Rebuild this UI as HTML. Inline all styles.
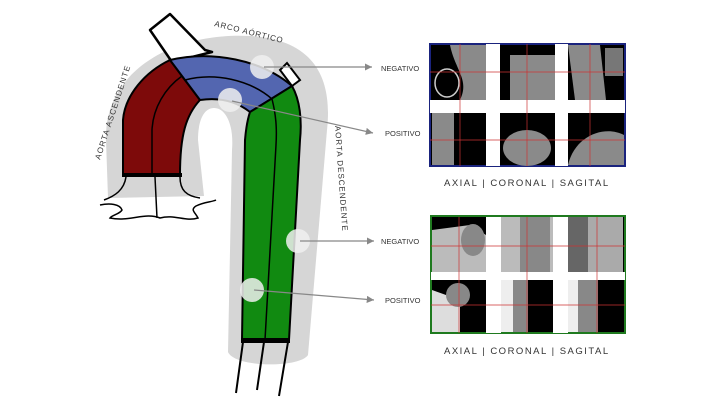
<!DOCTYPE html>
<html><head><meta charset="utf-8"><style>
html,body{margin:0;padding:0;background:#fff;width:720px;height:400px;overflow:hidden}
svg{display:block}
text{font-family:"Liberation Sans",sans-serif;fill:#333}
</style></head><body>
<svg width="720" height="400" viewBox="0 0 720 400" xmlns="http://www.w3.org/2000/svg">
<defs>
<marker id="ar" markerWidth="8" markerHeight="8" refX="6" refY="3" orient="auto"><path d="M0,0 L6,3 L0,6 Z" fill="#888"/></marker>
</defs>
<!-- gray halo -->
<path d="M108,198 L106,140 C104,72 172,32 250,36 C320,40 332,85 327,130 L308,355 C300,368 235,368 228,352 L232,150 C234,125 226,108 214,108 C204,108 198,120 198,140 L204,196 Z" fill="#d6d6d6"/>
<!-- top box -->
<path d="M150,30 L170,14 L205,50 L212,52 L172,62 Z" fill="#fff" stroke="#000" stroke-width="2.5" stroke-linejoin="round"/>
<path d="M280,70 L287,63 L300,80 L292,86 Z" fill="#fff" stroke="#000" stroke-width="2"/>
<!-- red -->
<path d="M123,175 L123,120 C125,95 145,72 170,60 L200,100 C186,115 180,135 180,175 Z" fill="#7d0a0a" stroke="#000" stroke-width="2"/>
<path d="M152,175 L152,130 C153,108 165,88 182,76" fill="none" stroke="#000" stroke-width="1.5"/>
<!-- blue -->
<path d="M170,60 C212,50 262,60 292,86 L250,112 C236,101 220,97 200,100 Z" fill="#5366b0" stroke="#000" stroke-width="2"/>
<path d="M185,80 C215,72 250,80 272,99" fill="none" stroke="#000" stroke-width="1.5"/>
<!-- green -->
<path d="M250,112 L292,86 C300,100 302,120 300,140 L289,340 L242,340 L245,140 C246,128 248,118 250,112 Z" fill="#118a11" stroke="#000" stroke-width="2"/>
<path d="M272,99 C276,115 277,128 276,145 L265,340" fill="none" stroke="#000" stroke-width="1.5"/>
<rect x="241" y="338" width="49" height="5" fill="#000"/>
<path d="M243,342 L236,393 M264,342 L257,390 M288,342 L279,396" stroke="#000" stroke-width="2" fill="none"/>
<!-- base -->
<rect x="122" y="173" width="60" height="4" fill="#000"/>
<path d="M126,177 C124,190 115,196 104,200 M100,205 C110,203 120,204 122,210 C120,214 112,215 110,218 C130,222 145,212 160,218 C175,214 185,222 198,218 C195,212 190,210 196,206 C204,202 212,202 216,200 M180,177 C180,190 186,196 200,198 M155,177 L157,218" fill="none" stroke="#000" stroke-width="1.5"/>
<!-- circles -->
<g fill="#f0f0f0" fill-opacity="0.85">
<circle cx="262" cy="67" r="12"/><circle cx="230" cy="100" r="12"/><circle cx="298" cy="241" r="12"/><circle cx="252" cy="290" r="12"/>
</g>
<g stroke="#888" stroke-width="1.2" fill="none" marker-end="url(#ar)">
<line x1="264" y1="67" x2="372" y2="67"/>
<line x1="232" y1="101" x2="373" y2="133"/>
<line x1="300" y1="241" x2="374" y2="241"/>
<line x1="254" y1="290" x2="374" y2="300"/>
</g>
<text x="381" y="71" font-size="7.5">NEGATIVO</text>
<text x="385" y="136" font-size="7.5">POSITIVO</text>
<text x="381" y="244" font-size="7.5">NEGATIVO</text>
<text x="385" y="303" font-size="7.5">POSITIVO</text>
<text font-size="8" letter-spacing="0.8" transform="translate(214,26) rotate(14)">ARCO AÓRTICO</text>
<text font-size="8" letter-spacing="1" transform="translate(100,160) rotate(-72)">AORTA ASCENDENTE</text>
<text font-size="8" letter-spacing="1" transform="translate(335,126) rotate(86)">AORTA DESCENDENTE</text>
<!-- panel 1 -->
<rect x="430" y="44" width="195" height="122" fill="#000" stroke="#1a237e" stroke-width="2"/>
<g fill="#8a8a8a">
<path d="M450,45 L486,45 L486,100 L460,100 C470,80 455,70 450,45 Z"/>
<ellipse cx="447" cy="83" rx="12" ry="14" fill="#000" stroke="#ccc" stroke-width="1.5"/>
<rect x="510" y="55" width="45" height="45"/>
<path d="M568,45 L600,45 L606,100 L575,100 Z"/>
<rect x="605" y="48" width="18" height="28" fill="#777"/>
<rect x="432" y="113" width="22" height="52"/>
<ellipse cx="527" cy="148" rx="24" ry="18"/>
<path d="M568,165 C575,135 605,125 624,135 L624,165 Z"/>
</g>
<g fill="#fff">
<rect x="486" y="44" width="14" height="122"/><rect x="555" y="44" width="13" height="122"/><rect x="430" y="100" width="195" height="13"/>
</g>
<g stroke="#c33" stroke-width="0.7">
<line x1="460" y1="44" x2="460" y2="166"/><line x1="527" y1="44" x2="527" y2="166"/><line x1="590" y1="44" x2="590" y2="166"/>
<line x1="430" y1="72" x2="625" y2="72"/><line x1="430" y1="140" x2="625" y2="140"/>
</g>
<text x="444" y="186" font-size="9.5" letter-spacing="1.5">AXIAL | CORONAL | SAGITAL</text>
<!-- panel 2 -->
<rect x="431" y="216" width="194" height="117" fill="#000" stroke="#1f7a1f" stroke-width="2"/>
<g fill="#999">
<path d="M432,230 L470,225 L486,235 L486,272 L432,272 Z" fill="#bbb"/>
<ellipse cx="473" cy="240" rx="12" ry="16" fill="#888"/>
<rect x="501" y="217" width="52" height="55" fill="#bbb"/>
<rect x="520" y="217" width="30" height="55" fill="#888"/>
<rect x="568" y="217" width="55" height="55" fill="#aaa"/>
<rect x="568" y="217" width="20" height="55" fill="#666"/>
<path d="M432,290 L460,300 L460,332 L432,332 Z" fill="#ddd"/>
<ellipse cx="458" cy="295" rx="12" ry="12" fill="#888"/>
<rect x="501" y="280" width="12" height="52" fill="#eee"/>
<rect x="513" y="280" width="15" height="52" fill="#888"/>
<rect x="568" y="280" width="10" height="52" fill="#eee"/>
<rect x="578" y="280" width="20" height="52" fill="#888"/>
</g>
<g fill="#fff">
<rect x="486" y="217" width="15" height="116"/><rect x="553" y="217" width="15" height="116"/><rect x="431" y="272" width="194" height="8"/>
</g>
<g stroke="#c33" stroke-width="0.7">
<line x1="459" y1="217" x2="459" y2="333"/><line x1="527" y1="217" x2="527" y2="333"/><line x1="597" y1="217" x2="597" y2="333"/>
<line x1="431" y1="246" x2="625" y2="246"/><line x1="431" y1="305" x2="625" y2="305"/>
</g>
<text x="444" y="354" font-size="9.5" letter-spacing="1.5">AXIAL | CORONAL | SAGITAL</text>
</svg>
</body></html>
